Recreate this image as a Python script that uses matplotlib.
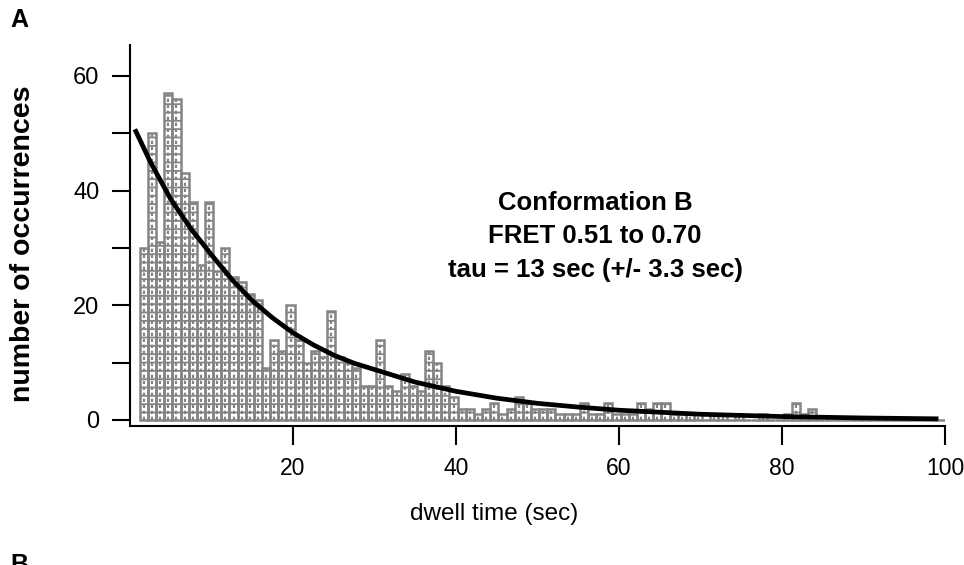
import numpy as np
import matplotlib
matplotlib.use("Agg")
import matplotlib.pyplot as plt

plt.rcParams['font.family'] = ['Liberation Sans', 'DejaVu Sans']
gray = '#848484'
plt.rcParams['hatch.color'] = gray
plt.rcParams['hatch.linewidth'] = 1.3

# histogram: counts per 1 sec bin, first bin starts at 1.2 sec
bin_start = 1.2
bin_width = 1.0
counts = [30, 50, 31, 57, 56, 43, 38, 27, 38, 26,
          30, 25, 24, 22, 21, 9, 14, 12, 20, 14,
          10, 12, 11, 19, 11, 10, 9, 6, 6, 14,
          6, 5, 8, 6, 5, 12, 10, 6, 4, 2,
          2, 1, 2, 3, 1, 2, 4, 3, 2, 2,
          2, 1, 1, 1, 3, 1, 1, 3, 1, 1,
          1, 3, 2, 3, 3, 1, 1, 1, 1, 0,
          1, 1, 0, 1, 0, 0, 1, 0, 0, 1,
          3, 1, 2, 0, 0, 0, 0, 0, 0, 0,
          0, 0, 0, 0, 0, 0, 0, 0, 0]

# exponential fit line
fit_x = [0.6, 2.5, 5, 7.5, 10, 12.5, 15, 17.5, 20, 22.5, 25, 27.5, 30,
         35, 40, 45, 50, 55, 60, 70, 80, 90, 99.2]
fit_y = [50.7, 45.0, 38.5, 33.3, 28.8, 24.5, 20.8, 17.8, 15.2, 13.1, 11.3, 9.9, 8.8,
         6.6, 5.0, 3.8, 2.9, 2.25, 1.7, 1.0, 0.6, 0.35, 0.2]

xticks = [20, 40, 60, 80, 100]
yticks = [0, 20, 40, 60]
yminor = [10, 30, 50]
note = ["Conformation B", "FRET 0.51 to 0.70", "tau = 13 sec (+/- 3.3 sec)"]

fig = plt.figure(figsize=(9.64, 5.65), dpi=100)
ax = fig.add_axes([130/964, 1-426/565, 815/964, 381/565])

left = bin_start + bin_width*np.arange(len(counts))
ax.bar(left, counts, width=bin_width, align='edge', facecolor='none',
       edgecolor=gray, linewidth=1.8, hatch='--', zorder=2)
ax.vlines(left + bin_width/2, 0, counts, colors=gray, linewidth=1.6,
          linestyles=(0, (1.5, 1.2)), zorder=2)
ax.plot(fit_x, fit_y, color='black', lw=3.4, solid_capstyle='butt', zorder=3)

ax.set_xlim(0, 100)
ax.set_ylim(-1.05, 65.4)
for s in ['top', 'right']:
    ax.spines[s].set_visible(False)
for s in ['left', 'bottom']:
    ax.spines[s].set_linewidth(1.5)

ax.set_xticks(xticks)
ax.set_yticks(yticks)
ax.set_yticks(yminor, minor=True)
ax.tick_params(axis='x', length=14, width=1.5, pad=8, labelsize=16.5)
ax.tick_params(axis='y', which='both', length=13, width=1.5, pad=9, labelsize=17)

ax.set_xlabel('dwell time (sec)', fontsize=17.5)
ax.xaxis.set_label_coords((494-130)/815, (426-503)/381)
fig.text(23/964, 1-244/565, 'number of occurrences', rotation=90, fontsize=20.5,
         fontweight='bold', ha='center', va='center')

for i, line in enumerate(note):
    fig.text(595/964, 1-(203+33.5*i)/565, line, fontsize=18.5, fontweight='bold',
             ha='center', va='center')

fig.text(10/964, 1-20/565, 'A', fontsize=18, fontweight='bold', ha='left', va='center')
fig.text(10/964, 0.0, 'B', fontsize=18, fontweight='bold', ha='left', va='center')

fig.savefig('out.png', dpi=100)
